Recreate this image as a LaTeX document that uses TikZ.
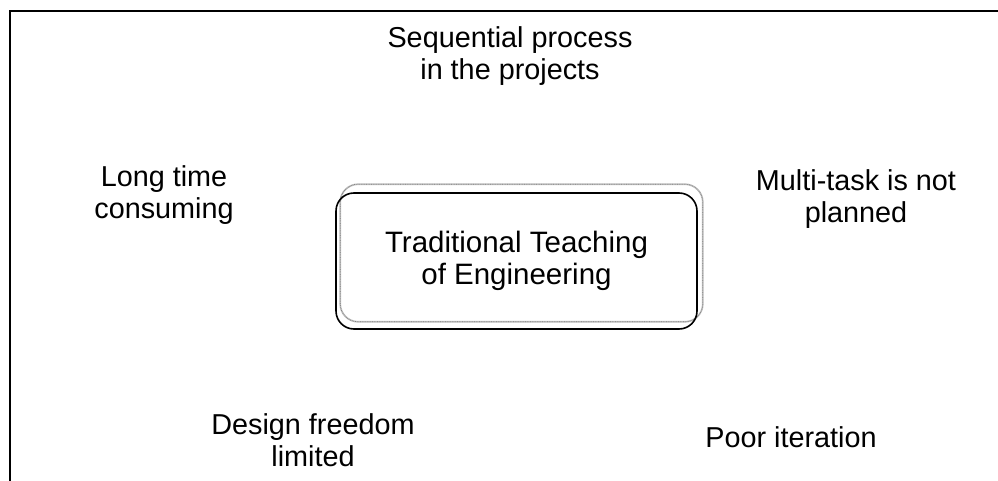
\documentclass[tikz,border=0pt]{standalone}
\usepackage{fontspec}
\setmainfont{Liberation Sans}
\usetikzlibrary{backgrounds}
\tikzset{
  label/.style={align=center,inner sep=0pt,font=\fontsize{28.8}{32}\selectfont},
  centrebox/.style={draw,line width=1.6pt,rounded corners=18pt,minimum width=361pt,minimum height=136pt,align=center,inner sep=0pt,font=\fontsize{29.5}{32}\selectfont},
  shadowframe/.style={draw=gray!50,line width=1.7pt,rounded corners=18pt}
}
\begin{document}
\begin{tikzpicture}[x=1pt,y=-1pt]
\useasboundingbox (0,0) rectangle (998,481);
% open frame (top and left)
\coordinate (frametop) at (998,11);
\coordinate (framecorner) at (10,11);
\coordinate (framebottom) at (10,481);
\draw[line width=1.8pt] (frametop) -- (framecorner) -- (framebottom);

% central box with its grey offset frame
\node[centrebox] (tradition) at (516.5,261) {Traditional Teaching\\of Engineering};
\begin{scope}[on background layer]
\draw[shadowframe] ([xshift=5pt,yshift=8pt]tradition.south west) rectangle ([xshift=5pt,yshift=8pt]tradition.north east);
\draw[gray,line width=0.7pt,densely dotted,rounded corners=18pt] ([xshift=5pt,yshift=8pt]tradition.south west) rectangle ([xshift=5pt,yshift=8pt]tradition.north east);
\end{scope}

% surrounding statements
\node[label] (sequential) at (510,56) {Sequential process\\in the projects};
\node[label] (longtime) at (164,195) {Long time\\consuming};
\node[label] (multitask) at (856,199) {Multi-task is not\\planned};
\node[label] (freedom) at (313,440) {Design freedom\\limited};
\node[label] (iteration) at (791,437) {Poor iteration};
\end{tikzpicture}
\end{document}
